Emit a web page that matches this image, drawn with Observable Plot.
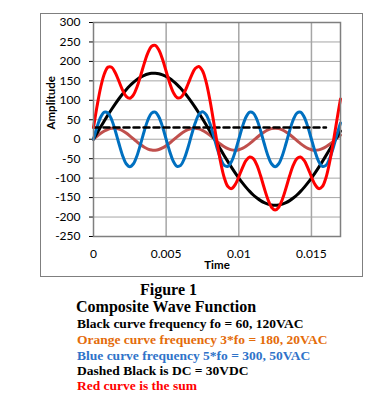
<!DOCTYPE html>
<html>
<head>
<meta charset="utf-8">
<script src="https://cdn.jsdelivr.net/npm/d3@7"></script>
<script src="https://cdn.jsdelivr.net/npm/@observablehq/plot@0.6"></script>
<style>
  html, body { margin: 0; padding: 0; background: #fff; }
  body { width: 392px; height: 403px; position: relative; overflow: hidden; }
  #chart { position: absolute; left: 0; top: 0; }
  #box { position: absolute; left: 40px; top: 13px; width: 323px; height: 264px; box-sizing: border-box; border: 1px solid #7f7f7f; pointer-events: none; }
  .cap { position: absolute; left: 77px; font-family: "Liberation Serif", "Times New Roman", serif; font-weight: bold; line-height: 1; white-space: nowrap; }
</style>
</head>
<body>
<div id="box"></div>
<div id="chart"></div>
<div class="cap" style="left:0;width:337px;text-align:center;top:281.6px;font-size:16px;color:#000">Figure 1</div>
<div class="cap" style="left:76px;top:298.6px;font-size:16px;color:#000">Composite Wave Function</div>
<div class="cap" style="top:317px;font-size:13.5px;color:#000">Black curve frequency fo = 60, 120VAC</div>
<div class="cap" style="top:332.7px;font-size:13.5px;color:#E46C0A">Orange curve frequency 3*fo = 180, 20VAC</div>
<div class="cap" style="top:348.7px;font-size:13.5px;color:#2F73C9">Blue curve frequency 5*fo = 300, 50VAC</div>
<div class="cap" style="top:364.4px;font-size:13.5px;color:#000">Dashed Black is DC = 30VDC</div>
<div class="cap" style="top:379.4px;font-size:13.5px;color:#FF0000">Red curve is the sum</div>
<script>
const time = [0,0.00025,0.0005,0.00075,0.001,0.00125,0.0015,0.00175,0.002,0.00225,0.0025,0.00275,0.003,0.00325,0.0035,0.00375,0.004,0.00425,0.0045,0.00475,0.005,0.00525,0.0055,0.00575,0.006,0.00625,0.0065,0.00675,0.007,0.00725,0.0075,0.00775,0.008,0.00825,0.0085,0.00875,0.009,0.00925,0.0095,0.00975,0.01,0.01025,0.0105,0.01075,0.011,0.01125,0.0115,0.01175,0.012,0.01225,0.0125,0.01275,0.013,0.01325,0.0135,0.01375,0.014,0.01425,0.0145,0.01475,0.015,0.01525,0.0155,0.01575,0.016,0.01625,0.0165,0.01675,0.017];
const black = [0,16.0,31.8,47.3,62.5,77.0,90.9,104.0,116.2,127.3,137.3,146.1,153.5,159.7,164.4,167.6,169.4,169.6,168.4,165.6,161.4,155.8,148.7,140.4,130.8,120.0,108.2,95.4,81.8,67.4,52.4,37.0,21.3,5.3,-10.7,-26.5,-42.2,-57.5,-72.3,-86.4,-99.7,-112.2,-123.7,-134.1,-143.3,-151.2,-157.8,-163.0,-166.7,-169.0,-169.7,-169.0,-166.7,-163.0,-157.8,-151.2,-143.3,-134.1,-123.7,-112.2,-99.7,-86.4,-72.3,-57.5,-42.2,-26.5,-10.7,5.3,21.3];
const orange = [0,7.9,15.2,21.2,25.6,28.0,28.1,26.0,21.8,15.9,8.7,0.9,-7.0,-14.4,-20.6,-25.2,-27.8,-28.2,-26.3,-22.4,-16.6,-9.6,-1.8,6.2,13.6,20.0,24.8,27.6,28.2,26.6,22.9,17.3,10.4,2.7,-5.3,-12.8,-19.4,-24.4,-27.4,-28.3,-26.9,-23.4,-18.0,-11.2,-3.5,4.4,12.0,18.7,23.9,27.2,28.3,27.2,23.9,18.7,12.0,4.4,-3.5,-11.2,-18.0,-23.4,-26.9,-28.3,-27.4,-24.4,-19.4,-12.8,-5.3,2.7,10.4];
const blue = [0,32.1,57.2,69.8,67.2,50.0,21.8,-11.1,-41.6,-63.0,-70.7,-63.0,-41.6,-11.1,21.8,50.0,67.2,69.8,57.2,32.1,0,-32.1,-57.2,-69.8,-67.2,-50.0,-21.8,11.1,41.6,63.0,70.7,63.0,41.6,11.1,-21.8,-50.0,-67.2,-69.8,-57.2,-32.1,0,32.1,57.2,69.8,67.2,50.0,21.8,-11.1,-41.6,-63.0,-70.7,-63.0,-41.6,-11.1,21.8,50.0,67.2,69.8,57.2,32.1,0,-32.1,-57.2,-69.8,-67.2,-50.0,-21.8,11.1,41.6];
const red = [30,86.0,134.2,168.3,185.3,185.0,170.8,148.9,126.4,110.2,105.3,114.0,134.9,164.2,195.6,222.4,238.8,241.2,229.3,205.3,174.8,144.1,119.7,106.8,107.2,120.0,141.2,164.1,181.6,187.0,176.0,147.3,103.3,49.1,-7.8,-59.3,-98.8,-121.7,-126.9,-116.8,-96.6,-73.5,-54.5,-45.5,-49.6,-66.8,-94.0,-125.4,-154.4,-174.8,-182.1,-174.8,-154.4,-125.4,-94.0,-66.8,-49.6,-45.5,-54.5,-73.5,-96.6,-116.8,-126.9,-121.7,-98.8,-59.3,-7.8,49.1,103.3];
const dcTime = [0, 0.016];
const dc = [30, 30];
const yTicks = [-250,-200,-150,-100,-50,0,50,100,150,200,250,300];
const xTicks = [0,0.005,0.01,0.015];
const xTickLabels = ["0","0.005","0.01","0.015"];

const rows = time.map((t, i) => ({t, black: black[i], orange: orange[i], blue: blue[i], red: red[i]}));
const dcRows = dcTime.map((t, i) => ({t, v: dc[i]}));

const chart = Plot.plot({
  width: 392, height: 280,
  marginLeft: 93, marginRight: 52, marginTop: 22, marginBottom: 44,
  style: {fontFamily: "Lato, 'Open Sans', sans-serif", fontSize: "12px", color: "#000", background: "transparent"},
  x: {domain: [0, 0.017], ticks: xTicks, tickFormat: d => xTickLabels[xTicks.indexOf(d)], tickSize: 0, tickPadding: 13, label: null},
  y: {domain: [-250, 300], ticks: yTicks, tickFormat: d => String(d), tickSize: 4, tickPadding: 9, label: null},
  marks: [
    Plot.gridY(yTicks, {stroke: "#a6a6a6", strokeOpacity: 1, strokeWidth: 1}),
    Plot.gridX(xTicks.slice(1), {stroke: "#a6a6a6", strokeOpacity: 1, strokeWidth: 1.5}),
    Plot.line(rows, {x: "t", y: "orange", stroke: "#C0504D", strokeWidth: 3, curve: "catmull-rom"}),
    Plot.line(rows, {x: "t", y: "black", stroke: "#000", strokeWidth: 3, curve: "catmull-rom"}),
    Plot.line(rows, {x: "t", y: "blue", stroke: "#0070C0", strokeWidth: 3, curve: "catmull-rom"}),
    Plot.line(dcRows, {x: "t", y: "v", stroke: "#000", strokeWidth: 2.5, strokeDasharray: "6,4"}),
    Plot.line(rows, {x: "t", y: "red", stroke: "#FF0000", strokeWidth: 3, curve: "catmull-rom"}),
    Plot.frame({stroke: "#7f7f7f", strokeWidth: 1.5}),
    Plot.text(["Amplitude"], {frameAnchor: "left", dx: -42, rotate: -90, fontWeight: "bold", fontSize: 11.5, fill: "#000"}),
    Plot.text(["Time"], {frameAnchor: "bottom", dy: 32, fontWeight: "bold", fontSize: 11.5, fill: "#000"})
  ]
});
document.getElementById("chart").appendChild(chart);
</script>
</body>
</html>
